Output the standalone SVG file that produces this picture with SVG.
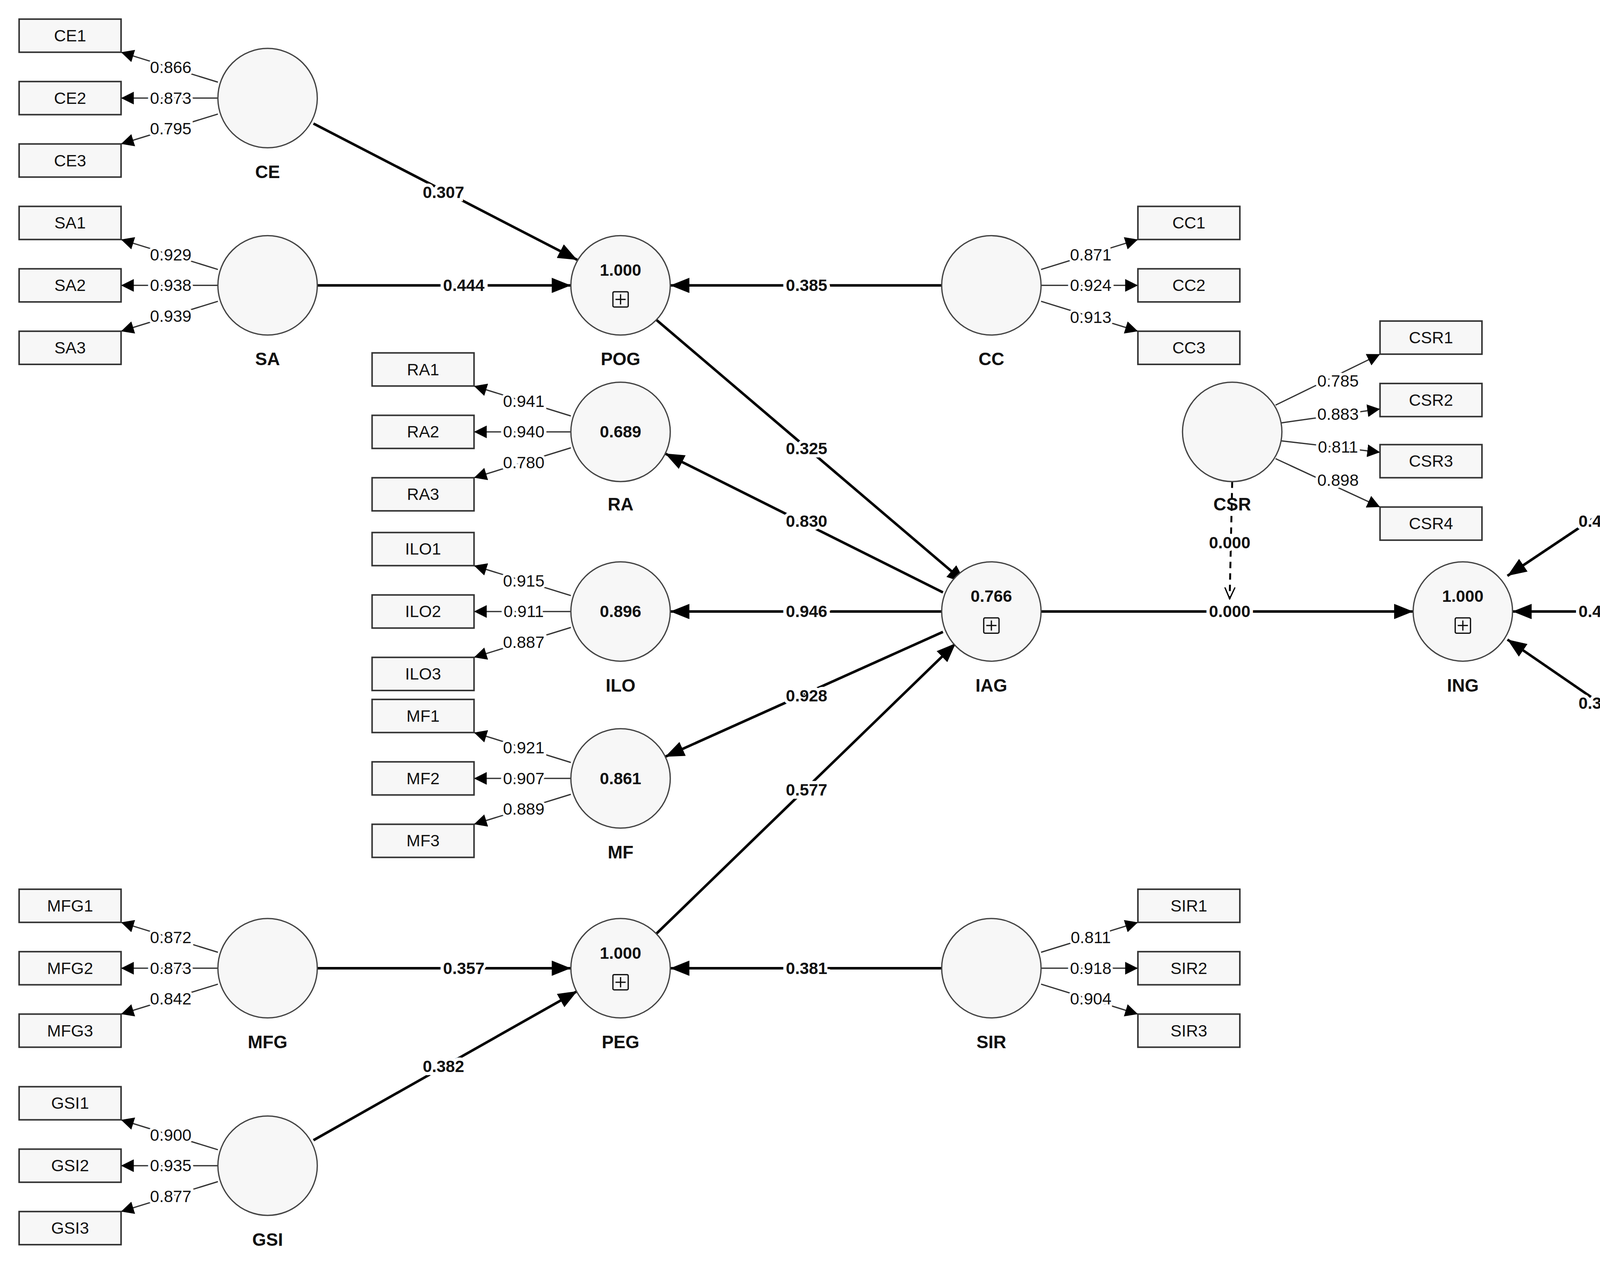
<svg xmlns="http://www.w3.org/2000/svg" width="5115" height="3234" viewBox="0 0 5115 3234">
<style>
.lv{fill:#f7f7f7;stroke:#444;stroke-width:1}
.ind{fill:#f7f7f7;stroke:#333;stroke-width:1.2}
text{font-family:"Liberation Sans",Arial,sans-serif;text-anchor:middle;dominant-baseline:central;fill:#111}
.t{font-size:13px}
.n{font-size:14px;font-weight:bold}
.v{font-size:13px;font-weight:bold}
.ld{font-size:13px;stroke:#fff;stroke-width:4;paint-order:stroke}
.pl{font-size:13px;font-weight:bold;stroke:#fff;stroke-width:5;paint-order:stroke}
.lk{stroke:#333;stroke-width:1;fill:none;marker-end:url(#sa)}
.pa{stroke:#000;stroke-width:2;fill:none;marker-end:url(#la)}
.pb{fill:none;stroke:#111;stroke-width:1}
</style>
<defs>
<marker id="sa" markerUnits="userSpaceOnUse" markerWidth="12" markerHeight="10" refX="10" refY="5" orient="auto"><path d="M0,0 L10,5 L0,10 Z" fill="#000"/></marker>
<marker id="la" markerUnits="userSpaceOnUse" markerWidth="16" markerHeight="12" refX="15" refY="6" orient="auto"><path d="M0,0 L15,6 L0,12 Z" fill="#000"/></marker>
<marker id="oa" markerUnits="userSpaceOnUse" markerWidth="10" markerHeight="10" refX="9" refY="5" orient="auto"><path d="M0,1 L9,5 L0,9" fill="none" stroke="#000" stroke-width="1"/></marker>
</defs>
<rect width="5115" height="3234" fill="#fff"/>
<g transform="scale(3.2621)">
<g id="connectors">
<!-- CE loadings -->
<path class="lk" d="M171,64.5 L95,41"/><path class="lk" d="M171,77 L95,77"/><path class="lk" d="M171,89.5 L95,113"/>
<text class="ld" x="134" y="53">0.866</text><text class="ld" x="134" y="77">0.873</text><text class="ld" x="134" y="101">0.795</text>
<!-- SA -->
<path class="lk" d="M171,211.5 L95,188"/><path class="lk" d="M171,224 L95,224"/><path class="lk" d="M171,236.5 L95,260"/>
<text class="ld" x="134" y="200">0.929</text><text class="ld" x="134" y="224">0.938</text><text class="ld" x="134" y="248">0.939</text>
<!-- MFG -->
<path class="lk" d="M171,747.5 L95,724"/><path class="lk" d="M171,760 L95,760"/><path class="lk" d="M171,772.5 L95,796"/>
<text class="ld" x="134" y="736">0.872</text><text class="ld" x="134" y="760">0.873</text><text class="ld" x="134" y="784">0.842</text>
<!-- GSI -->
<path class="lk" d="M171,902.5 L95,879"/><path class="lk" d="M171,915 L95,915"/><path class="lk" d="M171,927.5 L95,951"/>
<text class="ld" x="134" y="891">0.900</text><text class="ld" x="134" y="915">0.935</text><text class="ld" x="134" y="939">0.877</text>
<!-- RA -->
<path class="lk" d="M448,326.5 L372,303"/><path class="lk" d="M448,339 L372,339"/><path class="lk" d="M448,351.5 L372,375"/>
<text class="ld" x="411" y="315">0.941</text><text class="ld" x="411" y="339">0.940</text><text class="ld" x="411" y="363">0.780</text>
<!-- ILO -->
<path class="lk" d="M448,467.5 L372,444"/><path class="lk" d="M448,480 L372,480"/><path class="lk" d="M448,492.5 L372,516"/>
<text class="ld" x="411" y="456">0.915</text><text class="ld" x="411" y="480">0.911</text><text class="ld" x="411" y="504">0.887</text>
<!-- MF -->
<path class="lk" d="M448,598.5 L372,575"/><path class="lk" d="M448,611 L372,611"/><path class="lk" d="M448,623.5 L372,647"/>
<text class="ld" x="411" y="587">0.921</text><text class="ld" x="411" y="611">0.907</text><text class="ld" x="411" y="635">0.889</text>
<!-- CC -->
<path class="lk" d="M817,211.5 L893,188"/><path class="lk" d="M817,224 L893,224"/><path class="lk" d="M817,236.5 L893,260"/>
<text class="ld" x="856" y="200">0.871</text><text class="ld" x="856" y="224">0.924</text><text class="ld" x="856" y="249">0.913</text>
<!-- SIR -->
<path class="lk" d="M817,747.5 L893,724"/><path class="lk" d="M817,760 L893,760"/><path class="lk" d="M817,772.5 L893,796"/>
<text class="ld" x="856" y="736">0.811</text><text class="ld" x="856" y="760">0.918</text><text class="ld" x="856" y="784">0.904</text>
<!-- SR -->
<path class="lk" d="M1400,326.5 L1477,303"/><path class="lk" d="M1400,339 L1477,339"/><path class="lk" d="M1400,351.5 L1477,375"/>
<text class="ld" x="1439" y="315">0.922</text><text class="ld" x="1439" y="339">0.921</text><text class="ld" x="1439" y="363">0.934</text>
<!-- TD -->
<path class="lk" d="M1400,467.5 L1477,444"/><path class="lk" d="M1400,480 L1477,480"/><path class="lk" d="M1400,492.5 L1477,516"/>
<text class="ld" x="1439" y="456">0.930</text><text class="ld" x="1439" y="480">0.925</text><text class="ld" x="1439" y="504">0.875</text>
<!-- CR -->
<path class="lk" d="M1400,609.5 L1477,586"/><path class="lk" d="M1400,622 L1477,622"/><path class="lk" d="M1400,634.5 L1477,658"/>
<text class="ld" x="1439" y="598">0.860</text><text class="ld" x="1439" y="622">0.937</text><text class="ld" x="1439" y="646">0.927</text>
<!-- CSR -->
<path class="lk" d="M1001,318 L1083,278"/><path class="lk" d="M1005,332 L1083,321"/><path class="lk" d="M1005,346 L1083,355"/><path class="lk" d="M1001,360 L1083,398"/>
<text class="ld" x="1050" y="299">0.785</text><text class="ld" x="1050" y="325">0.883</text><text class="ld" x="1050" y="351">0.811</text><text class="ld" x="1050" y="377">0.898</text>
<!-- structural -->
<path class="pa" d="M246,97 L453,204"/><text class="pl" x="348" y="151">0.307</text>
<path class="pa" d="M249,224 L448,224"/><text class="pl" x="364" y="224">0.444</text>
<path class="pa" d="M739,224 L526,224"/><text class="pl" x="633" y="224">0.385</text>
<path class="pa" d="M515,251 L758,458"/><text class="pl" x="633" y="352">0.325</text>
<path class="pa" d="M740,465 L522,356"/><text class="pl" x="633" y="409">0.830</text>
<path class="pa" d="M739,480 L526,480"/><text class="pl" x="633" y="480">0.946</text>
<path class="pa" d="M740,496 L522,594"/><text class="pl" x="633" y="546">0.928</text>
<path class="pa" d="M515,733 L750,505"/><text class="pl" x="633" y="620">0.577</text>
<path class="pa" d="M249,760 L448,760"/><text class="pl" x="364" y="760">0.357</text>
<path class="pa" d="M246,895 L453,778"/><text class="pl" x="348" y="837">0.382</text>
<path class="pa" d="M739,760 L526,760"/><text class="pl" x="633" y="760">0.381</text>
<path class="pa" d="M817,480 L1109,480"/><text class="pl" x="965" y="480">0.000</text>
<path d="M967,378 L965,470" fill="none" stroke="#000" stroke-width="1.5" stroke-dasharray="5,4" marker-end="url(#oa)"/><text class="pl" x="965" y="426">0.000</text>
<path class="pa" d="M1325,357 L1183,452"/><text class="pl" x="1255" y="409">0.448</text>
<path class="pa" d="M1322,480 L1187,480"/><text class="pl" x="1255" y="480">0.476</text>
<path class="pa" d="M1327,601 L1183,502"/><text class="pl" x="1255" y="552">0.365</text>
</g>
<!-- latent variables -->
<g id="CE"><circle class="lv" cx="210" cy="77" r="39"/><text class="n" x="210" y="135">CE</text></g>
<g id="SA"><circle class="lv" cx="210" cy="224" r="39"/><text class="n" x="210" y="282">SA</text></g>
<g id="MFG"><circle class="lv" cx="210" cy="760" r="39"/><text class="n" x="210" y="818">MFG</text></g>
<g id="GSI"><circle class="lv" cx="210" cy="915" r="39"/><text class="n" x="210" y="973">GSI</text></g>
<g id="POG"><circle class="lv" cx="487" cy="224" r="39"/><text class="v" x="487" y="212">1.000</text><rect class="pb" x="481" y="229" width="12" height="12" rx="1"/><path class="pb" d="M487,231 V239 M483,235 H491"/><text class="n" x="487" y="282">POG</text></g>
<g id="RA"><circle class="lv" cx="487" cy="339" r="39"/><text class="v" x="487" y="339">0.689</text><text class="n" x="487" y="396">RA</text></g>
<g id="ILO"><circle class="lv" cx="487" cy="480" r="39"/><text class="v" x="487" y="480">0.896</text><text class="n" x="487" y="538">ILO</text></g>
<g id="MF"><circle class="lv" cx="487" cy="611" r="39"/><text class="v" x="487" y="611">0.861</text><text class="n" x="487" y="669">MF</text></g>
<g id="PEG"><circle class="lv" cx="487" cy="760" r="39"/><text class="v" x="487" y="748">1.000</text><rect class="pb" x="481" y="765" width="12" height="12" rx="1"/><path class="pb" d="M487,767 V775 M483,771 H491"/><text class="n" x="487" y="818">PEG</text></g>
<g id="CC"><circle class="lv" cx="778" cy="224" r="39"/><text class="n" x="778" y="282">CC</text></g>
<g id="IAG"><circle class="lv" cx="778" cy="480" r="39"/><text class="v" x="778" y="468">0.766</text><rect class="pb" x="772" y="485" width="12" height="12" rx="1"/><path class="pb" d="M778,487 V495 M774,491 H782"/><text class="n" x="778" y="538">IAG</text></g>
<g id="SIR"><circle class="lv" cx="778" cy="760" r="39"/><text class="n" x="778" y="818">SIR</text></g>
<g id="CSR"><circle class="lv" cx="967" cy="339" r="39"/><text class="n" x="967" y="396">CSR</text></g>
<g id="ING"><circle class="lv" cx="1148" cy="480" r="39"/><text class="v" x="1148" y="468">1.000</text><rect class="pb" x="1142" y="485" width="12" height="12" rx="1"/><path class="pb" d="M1148,487 V495 M1144,491 H1152"/><text class="n" x="1148" y="538">ING</text></g>
<g id="SR"><circle class="lv" cx="1361" cy="339" r="39"/><text class="n" x="1361" y="396">SR</text></g>
<g id="TD"><circle class="lv" cx="1361" cy="480" r="39"/><text class="n" x="1361" y="538">TD</text></g>
<g id="CR"><circle class="lv" cx="1361" cy="622" r="39"/><text class="n" x="1361" y="680">CR</text></g>
<!-- indicators -->
<g id="CE1"><rect class="ind" x="15" y="15" width="80" height="26"/><text class="t" x="55" y="28">CE1</text></g>
<g id="CE2"><rect class="ind" x="15" y="64" width="80" height="26"/><text class="t" x="55" y="77">CE2</text></g>
<g id="CE3"><rect class="ind" x="15" y="113" width="80" height="26"/><text class="t" x="55" y="126">CE3</text></g>
<g id="SA1"><rect class="ind" x="15" y="162" width="80" height="26"/><text class="t" x="55" y="175">SA1</text></g>
<g id="SA2"><rect class="ind" x="15" y="211" width="80" height="26"/><text class="t" x="55" y="224">SA2</text></g>
<g id="SA3"><rect class="ind" x="15" y="260" width="80" height="26"/><text class="t" x="55" y="273">SA3</text></g>
<g id="MFG1"><rect class="ind" x="15" y="698" width="80" height="26"/><text class="t" x="55" y="711">MFG1</text></g>
<g id="MFG2"><rect class="ind" x="15" y="747" width="80" height="26"/><text class="t" x="55" y="760">MFG2</text></g>
<g id="MFG3"><rect class="ind" x="15" y="796" width="80" height="26"/><text class="t" x="55" y="809">MFG3</text></g>
<g id="GSI1"><rect class="ind" x="15" y="853" width="80" height="26"/><text class="t" x="55" y="866">GSI1</text></g>
<g id="GSI2"><rect class="ind" x="15" y="902" width="80" height="26"/><text class="t" x="55" y="915">GSI2</text></g>
<g id="GSI3"><rect class="ind" x="15" y="951" width="80" height="26"/><text class="t" x="55" y="964">GSI3</text></g>
<g id="RA1"><rect class="ind" x="292" y="277" width="80" height="26"/><text class="t" x="332" y="290">RA1</text></g>
<g id="RA2"><rect class="ind" x="292" y="326" width="80" height="26"/><text class="t" x="332" y="339">RA2</text></g>
<g id="RA3"><rect class="ind" x="292" y="375" width="80" height="26"/><text class="t" x="332" y="388">RA3</text></g>
<g id="ILO1"><rect class="ind" x="292" y="418" width="80" height="26"/><text class="t" x="332" y="431">ILO1</text></g>
<g id="ILO2"><rect class="ind" x="292" y="467" width="80" height="26"/><text class="t" x="332" y="480">ILO2</text></g>
<g id="ILO3"><rect class="ind" x="292" y="516" width="80" height="26"/><text class="t" x="332" y="529">ILO3</text></g>
<g id="MF1"><rect class="ind" x="292" y="549" width="80" height="26"/><text class="t" x="332" y="562">MF1</text></g>
<g id="MF2"><rect class="ind" x="292" y="598" width="80" height="26"/><text class="t" x="332" y="611">MF2</text></g>
<g id="MF3"><rect class="ind" x="292" y="647" width="80" height="26"/><text class="t" x="332" y="660">MF3</text></g>
<g id="CC1"><rect class="ind" x="893" y="162" width="80" height="26"/><text class="t" x="933" y="175">CC1</text></g>
<g id="CC2"><rect class="ind" x="893" y="211" width="80" height="26"/><text class="t" x="933" y="224">CC2</text></g>
<g id="CC3"><rect class="ind" x="893" y="260" width="80" height="26"/><text class="t" x="933" y="273">CC3</text></g>
<g id="SIR1"><rect class="ind" x="893" y="698" width="80" height="26"/><text class="t" x="933" y="711">SIR1</text></g>
<g id="SIR2"><rect class="ind" x="893" y="747" width="80" height="26"/><text class="t" x="933" y="760">SIR2</text></g>
<g id="SIR3"><rect class="ind" x="893" y="796" width="80" height="26"/><text class="t" x="933" y="809">SIR3</text></g>
<g id="CSR1"><rect class="ind" x="1083" y="252" width="80" height="26"/><text class="t" x="1123" y="265">CSR1</text></g>
<g id="CSR2"><rect class="ind" x="1083" y="301" width="80" height="26"/><text class="t" x="1123" y="314">CSR2</text></g>
<g id="CSR3"><rect class="ind" x="1083" y="349" width="80" height="26"/><text class="t" x="1123" y="362">CSR3</text></g>
<g id="CSR4"><rect class="ind" x="1083" y="398" width="80" height="26"/><text class="t" x="1123" y="411">CSR4</text></g>
<g id="SR1"><rect class="ind" x="1477" y="277" width="80" height="26"/><text class="t" x="1517" y="290">SR1</text></g>
<g id="SR2"><rect class="ind" x="1477" y="326" width="80" height="26"/><text class="t" x="1517" y="339">SR2</text></g>
<g id="SR3"><rect class="ind" x="1477" y="375" width="80" height="26"/><text class="t" x="1517" y="388">SR3</text></g>
<g id="TD1"><rect class="ind" x="1477" y="418" width="80" height="26"/><text class="t" x="1517" y="431">TD1</text></g>
<g id="TD2"><rect class="ind" x="1477" y="467" width="80" height="26"/><text class="t" x="1517" y="480">TD2</text></g>
<g id="TD3"><rect class="ind" x="1477" y="516" width="80" height="26"/><text class="t" x="1517" y="529">TD3</text></g>
<g id="CR1"><rect class="ind" x="1477" y="560" width="80" height="26"/><text class="t" x="1517" y="573">CR1</text></g>
<g id="CR2"><rect class="ind" x="1477" y="609" width="80" height="26"/><text class="t" x="1517" y="622">CR2</text></g>
<g id="CR3"><rect class="ind" x="1477" y="658" width="80" height="26"/><text class="t" x="1517" y="671">CR3</text></g>
</g>
</svg>
